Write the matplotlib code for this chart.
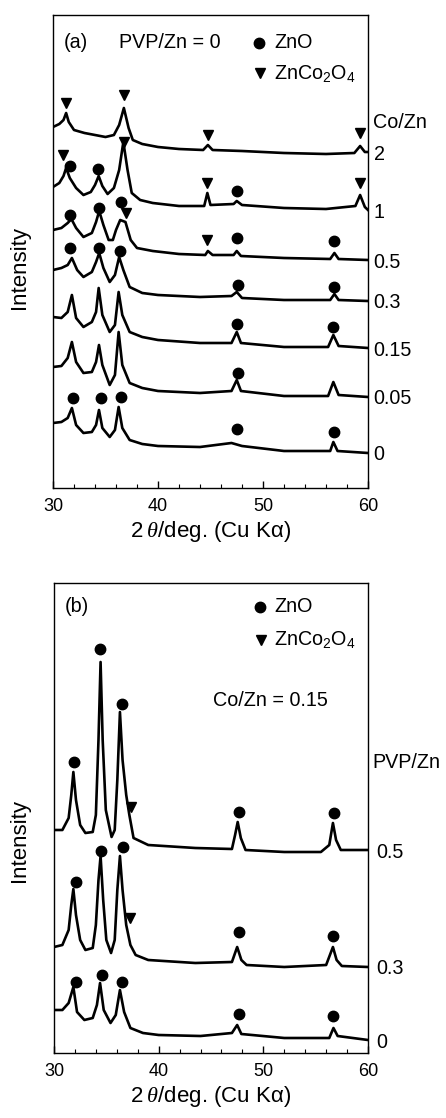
import matplotlib
matplotlib.use("Agg")
import matplotlib.pyplot as plt
from matplotlib.ticker import MultipleLocator
import matplotlib.transforms as mtransforms

plt.rcParams['font.family'] = ['Liberation Sans', 'DejaVu Sans']
plt.rcParams['mathtext.fontset'] = 'custom'
plt.rcParams['mathtext.rm'] = 'Liberation Sans'
plt.rcParams['mathtext.it'] = 'Liberation Serif:italic'

# ---------------- Panel (a): PVP/Zn = 0, varying Co/Zn ----------------
a_labels = ["2", "1", "0.5", "0.3", "0.15", "0.05", "0"]

a_x_2 = [30.0, 30.6, 31.0, 31.25, 31.5, 32.0, 33.0, 34.0, 35.0, 35.8, 36.3, 36.75, 37.2, 37.6, 38.5, 40, 42, 44.3, 44.75, 45.2, 48, 52, 56, 58.7, 59.25, 59.7, 60]
a_y_2 = [361, 364, 368, 375, 366, 358, 355, 353, 351, 353, 363, 380, 360, 348, 344, 341, 339, 338, 343, 338, 337, 335, 334, 335, 342, 336, 336]

a_x_1 = [30.0, 30.6, 31.0, 31.25, 31.6, 32.2, 32.9, 33.6, 34.0, 34.35, 34.7, 35.2, 35.8, 36.3, 36.7, 37.1, 37.5, 38.3, 39.5, 42, 44.4, 44.7, 45.0, 47.2, 47.5, 48, 52, 56, 58.8, 59.25, 59.7, 60]
a_y_1 = [301, 305, 312, 320, 310, 300, 293, 296, 303, 312, 302, 294, 300, 318, 346, 318, 295, 288, 285, 282, 282, 295, 283, 284, 287, 283, 280, 279, 282, 293, 281, 278]

a_x_05 = [30.0, 30.8, 31.4, 31.75, 32.2, 32.9, 33.7, 34.1, 34.4, 34.8, 35.3, 35.7, 36.0, 36.4, 36.9, 37.4, 38.0, 39.5, 42, 44.5, 44.75, 45.2, 47.2, 47.5, 47.9, 52, 56.4, 56.8, 57.2, 60]
a_y_05 = [258, 260, 265, 269, 260, 251, 255, 266, 277, 263, 248, 248, 258, 268, 266, 248, 240, 237, 234, 233, 237, 233, 233, 237, 232, 230, 229, 235, 229, 228]

a_x_03 = [30.0, 30.8, 31.4, 31.8, 32.3, 32.9, 33.7, 34.1, 34.4, 34.8, 35.4, 35.9, 36.3, 36.7, 37.3, 38.5, 40, 44, 47.0, 47.5, 48.0, 52, 56.4, 56.8, 57.2, 60]
a_y_03 = [218, 220, 223, 230, 218, 211, 216, 226, 235, 220, 206, 213, 231, 218, 201, 195, 193, 191, 192, 196, 190, 188, 188, 194, 188, 187]

a_x_015 = [30.0, 30.8, 31.4, 31.8, 32.2, 32.9, 33.7, 34.1, 34.35, 34.7, 35.4, 35.9, 36.25, 36.6, 37.3, 38.5, 40, 44, 47.0, 47.5, 47.9, 52, 56.2, 56.7, 57.2, 60]
a_y_015 = [171, 170, 176, 193, 170, 161, 166, 176, 200, 173, 156, 163, 196, 173, 156, 151, 148, 145, 145, 156, 145, 141, 141, 153, 142, 140]

a_x_005 = [30.0, 30.8, 31.4, 31.8, 32.2, 32.9, 33.7, 34.1, 34.38, 34.7, 35.4, 35.9, 36.25, 36.6, 37.3, 38.5, 40, 44, 47.0, 47.5, 47.9, 52, 56.2, 56.7, 57.2, 60]
a_y_005 = [121, 122, 130, 146, 126, 115, 116, 126, 143, 123, 103, 113, 156, 123, 105, 100, 97, 95, 97, 108, 97, 92, 92, 106, 93, 91]

a_x_0 = [30.0, 30.8, 31.4, 31.8, 32.2, 32.9, 33.7, 34.1, 34.38, 34.7, 35.4, 35.9, 36.25, 36.6, 37.3, 38.5, 40, 44, 47.0, 48.0, 52, 56.4, 56.7, 57.1, 60]
a_y_0 = [65, 66, 70, 80, 63, 55, 56, 63, 78, 60, 51, 58, 81, 60, 48, 44, 42, 41, 45, 42, 37, 37, 46, 37, 35]

a_zno_x = [31.62, 34.29, 47.52, 31.62, 34.38, 36.48, 47.52, 56.76, 31.62, 34.38, 36.38, 47.62, 56.76, 47.52, 56.67, 47.62, 31.9, 34.57, 36.48, 47.52, 56.76]
a_zno_y = [322, 319, 297, 273, 280, 286, 250, 247, 240, 240, 237, 203, 201, 164, 161, 115, 90, 90, 91, 59, 56]
a_spn_x = [31.24, 36.76, 44.76, 59.24, 30.95, 36.76, 44.67, 59.24, 36.95, 44.67]
a_spn_y = [385, 393, 353, 355, 333, 346, 305, 305, 275, 248]

# ---------------- Panel (b): Co/Zn = 0.15, varying PVP/Zn ----------------
b_labels = ["0.5", "0.3", "0"]

b_x_05 = [30.0, 30.8, 31.4, 31.65, 31.85, 32.1, 32.5, 33.0, 33.7, 34.0, 34.25, 34.45, 34.65, 34.95, 35.5, 35.8, 36.05, 36.3, 36.55, 36.9, 37.2, 37.6, 39, 43.5, 47.0, 47.3, 47.55, 47.85, 48.3, 52, 55.5, 56.3, 56.65, 56.95, 57.4, 60]
b_y_05 = [223, 223, 235, 258, 281, 253, 228, 220, 221, 238, 313, 391, 313, 243, 216, 223, 273, 341, 293, 258, 238, 215, 208, 205, 204, 218, 231, 215, 203, 201, 201, 208, 230, 213, 203, 203]

b_x_03 = [30.0, 30.8, 31.4, 31.65, 31.85, 32.1, 32.5, 33.0, 33.7, 34.0, 34.25, 34.45, 34.7, 35.0, 35.45, 35.8, 36.05, 36.3, 36.55, 36.9, 37.3, 37.8, 39, 43.5, 47.0, 47.5, 47.9, 48.4, 52, 56.0, 56.65, 57.0, 57.5, 60]
b_y_03 = [106, 108, 123, 148, 164, 138, 113, 103, 105, 128, 173, 197, 153, 113, 100, 113, 163, 197, 163, 128, 108, 98, 93, 90, 91, 106, 93, 88, 86, 88, 106, 93, 87, 86]

b_x_0 = [30.0, 30.8, 31.4, 31.85, 32.2, 32.9, 33.7, 34.1, 34.4, 34.75, 35.4, 35.9, 36.3, 36.7, 37.3, 38.5, 40, 44, 47.0, 47.5, 47.9, 52, 56.3, 56.7, 57.1, 60]
b_y_0 = [43, 43, 50, 66, 41, 33, 35, 48, 70, 43, 30, 38, 63, 41, 25, 20, 18, 17, 20, 28, 19, 15, 15, 25, 17, 13]

b_zno_x = [31.9, 34.38, 36.48, 47.71, 56.76, 32.1, 34.48, 36.57, 47.71, 56.67, 32.1, 34.57, 36.48, 47.71, 56.67]
b_zno_y = [291, 404, 349, 241, 240, 171, 202, 206, 121, 117, 71, 78, 71, 39, 37]
b_spn_x = [37.33, 37.24]
b_spn_y = [246, 135]

W, H = 446, 1118
fig = plt.figure(figsize=(W / 100, H / 100), dpi=100)

FS_TICK = 13
FS_TXT = 14.2
FS_LAB = 16
LW = 1.9


def px_axes(left, top, right, bottom):
    return fig.add_axes([left / W, 1 - bottom / H, (right - left) / W, (bottom - top) / H])


def style(ax, ymax):
    ax.set_xlim(30, 60)
    ax.set_ylim(0, ymax)
    ax.xaxis.set_major_locator(MultipleLocator(10))
    ax.xaxis.set_minor_locator(MultipleLocator(2))
    ax.tick_params(axis='x', which='both', direction='in', top=False, labelsize=FS_TICK, pad=7)
    ax.tick_params(axis='x', which='major', length=5, width=1)
    ax.tick_params(axis='x', which='minor', length=3, width=0.8)
    ax.set_yticks([])
    for s in ax.spines.values():
        s.set_linewidth(1.0)
    ax.set_xlabel("2\u2009$\\theta$/deg. (Cu K\u03b1)", fontsize=FS_LAB, labelpad=3)


def legend_marks(ax, y_circle, y_tri):
    ax.plot([0.655], [y_circle], 'o', color='black', ms=7.5, transform=ax.transAxes, clip_on=False)
    ax.text(0.702, y_circle, "ZnO", transform=ax.transAxes, fontsize=FS_TXT, va='center', ha='left')
    ax.plot([0.658], [y_tri], 'v', color='black', ms=7, transform=ax.transAxes, clip_on=False)
    ax.text(0.702, y_tri, r"ZnCo$_2$O$_4$", transform=ax.transAxes, fontsize=FS_TXT, va='center', ha='left')


# ---- panel a ----
axa = px_axes(53, 15, 368, 488)
a_series = [(a_x_2, a_y_2), (a_x_1, a_y_1), (a_x_05, a_y_05), (a_x_03, a_y_03),
            (a_x_015, a_y_015), (a_x_005, a_y_005), (a_x_0, a_y_0)]
for (xs, ys) in a_series:
    axa.plot(xs, ys, color='black', lw=LW, solid_joinstyle='round')
axa.plot(a_zno_x, a_zno_y, 'o', color='black', ms=7.5, ls='none')
axa.plot(a_spn_x, a_spn_y, 'v', color='black', ms=7, ls='none')
style(axa, 473)
tra = mtransforms.blended_transform_factory(axa.transAxes, axa.transData)
for lab, (xs, ys) in zip(a_labels, a_series):
    axa.text(1.018, ys[-1] - 2, lab, transform=tra, fontsize=FS_TXT, va='center', ha='left', clip_on=False)
axa.text(1.015, 366, "Co/Zn", transform=tra, fontsize=FS_TXT, va='center', ha='left', clip_on=False)
axa.text(0.035, 0.941, "(a)", transform=axa.transAxes, fontsize=FS_TXT, va='center', ha='left')
axa.text(0.21, 0.941, "PVP/Zn = 0", transform=axa.transAxes, fontsize=FS_TXT, va='center', ha='left')
legend_marks(axa, 0.941, 0.877)

# ---- panel b ----
axb = px_axes(54, 583, 368, 1053)
b_series = [(b_x_05, b_y_05), (b_x_03, b_y_03), (b_x_0, b_y_0)]
for (xs, ys) in b_series:
    axb.plot(xs, ys, color='black', lw=LW, solid_joinstyle='round')
axb.plot(b_zno_x, b_zno_y, 'o', color='black', ms=7.5, ls='none')
axb.plot(b_spn_x, b_spn_y, 'v', color='black', ms=7, ls='none')
style(axb, 470)
trb = mtransforms.blended_transform_factory(axb.transAxes, axb.transData)
for lab, (xs, ys) in zip(b_labels, b_series):
    axb.text(1.025, ys[-1] - 2, lab, transform=trb, fontsize=FS_TXT, va='center', ha='left', clip_on=False)
axb.text(1.013, 291, "PVP/Zn", transform=trb, fontsize=FS_TXT, va='center', ha='left', clip_on=False)
axb.text(0.035, 0.949, "(b)", transform=axb.transAxes, fontsize=FS_TXT, va='center', ha='left')
axb.text(0.505, 0.751, "Co/Zn = 0.15", transform=axb.transAxes, fontsize=FS_TXT, va='center', ha='left')
legend_marks(axb, 0.949, 0.879)

# y labels
fig.text(20 / W, 1 - 267 / H, "Intensity", rotation=90, fontsize=FS_LAB, ha='center', va='center')
fig.text(20 / W, 1 - 840 / H, "Intensity", rotation=90, fontsize=FS_LAB, ha='center', va='center')

fig.savefig("out.png", dpi=100)
